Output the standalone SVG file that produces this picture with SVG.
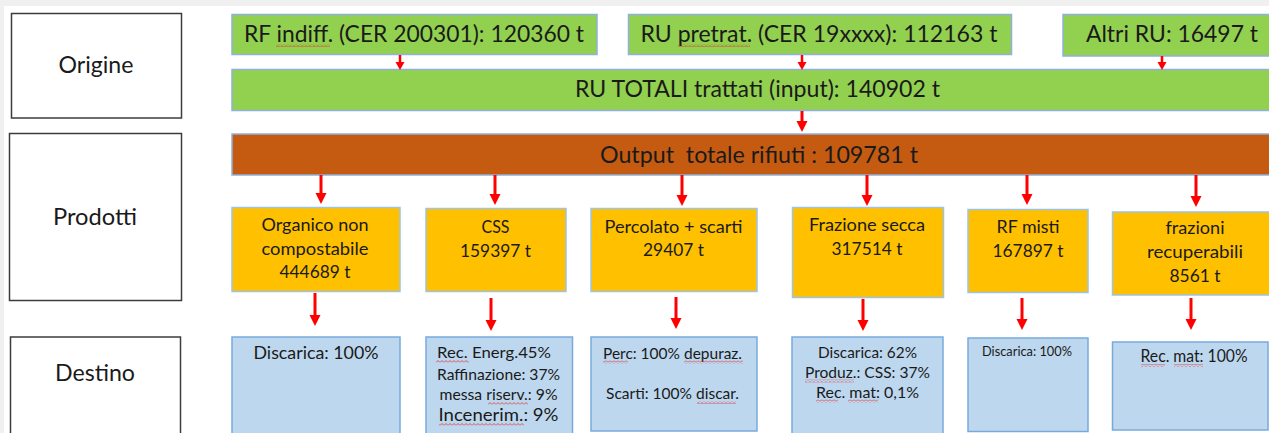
<svg xmlns="http://www.w3.org/2000/svg" width="1269" height="433" viewBox="0 0 1269 433">
<style>
  text { font-family: Lato, "Liberation Sans", sans-serif; fill: #1a1a1a; text-anchor: middle; }
  .lbl { fill: #ffffff; stroke: #3c3c3c; stroke-width: 1.5; }
  .grn { fill: #92D050; stroke: #8FB1DB; stroke-width: 1.5; }
  .brn { fill: #C55A11; stroke: #8FB1DB; stroke-width: 1.5; }
  .org { fill: #FFC000; stroke: #9DC3E6; stroke-width: 1.5; }
  .dst { fill: #BDD7EE; stroke: #7AAADC; stroke-width: 1.5; }
  .arr { stroke: #FF0000; stroke-width: 3; fill: none; }
  .arrs { stroke: #FF0000; stroke-width: 2.5; fill: none; }
  .t24 { font-size: 24px; }
  .t22 { font-size: 23px; }
  .t17 { font-size: 18px; }
  .sq { fill: url(#squiggle); }
</style>
<defs>
  <marker id="ah" markerUnits="userSpaceOnUse" markerWidth="11" markerHeight="12" refX="0" refY="5.5" orient="auto">
    <path d="M0,0 L11,5.5 L0,11 z" fill="#FF0000"/>
  </marker>
  <marker id="ahs" markerUnits="userSpaceOnUse" markerWidth="9" markerHeight="10" refX="0" refY="4.5" orient="auto">
    <path d="M0,0 L8,4.5 L0,9 z" fill="#FF0000"/>
  </marker>
  <pattern id="squiggle" patternUnits="userSpaceOnUse" width="4" height="3">
    <path d="M0,2.5 L2,0.5 L4,2.5" fill="none" stroke="#E03030" stroke-width="0.8"/>
  </pattern>
</defs>

<rect x="0" y="0" width="1269" height="433" fill="#ffffff"/>
<rect x="0" y="0" width="1269" height="6" fill="#F0F0F0"/>
<rect x="0" y="0" width="4" height="433" fill="#F0F0F0"/>

<g id="label-origine">
  <rect class="lbl" x="11.5" y="13.5" width="170" height="104.5"/>
  <text class="t24" x="96" y="73" textLength="75" lengthAdjust="spacingAndGlyphs">Origine</text>
</g>
<g id="label-prodotti">
  <rect class="lbl" x="9.5" y="133.5" width="172" height="167"/>
  <text class="t24" x="95" y="225" textLength="84" lengthAdjust="spacingAndGlyphs">Prodotti</text>
</g>
<g id="label-destino">
  <rect class="lbl" x="10.5" y="337" width="170" height="110"/>
  <text class="t24" x="95" y="381" textLength="80" lengthAdjust="spacingAndGlyphs">Destino</text>
</g>

<g id="origin-rf">
  <rect class="grn" x="232" y="14.5" width="365" height="40"/>
  <text class="t22" x="414" y="42" textLength="340" lengthAdjust="spacingAndGlyphs">RF indiff. (CER 200301): 120360 t</text>
  <rect class="sq" x="276" y="44" width="54" height="3"/>
</g>
<g id="origin-ru">
  <rect class="grn" x="628.5" y="14.5" width="383" height="40"/>
  <text class="t22" x="819" y="42" textLength="357" lengthAdjust="spacingAndGlyphs">RU pretrat. (CER 19xxxx): 112163 t</text>
  <rect class="sq" x="678" y="44" width="72" height="3"/>
</g>
<g id="origin-altri">
  <rect class="grn" x="1063" y="14.5" width="215" height="41.5"/>
  <text class="t22" x="1172" y="42" textLength="172" lengthAdjust="spacingAndGlyphs">Altri RU: 16497 t</text>
</g>
<g id="ru-totali">
  <rect class="grn" x="232" y="69.5" width="1045" height="41"/>
  <text class="t22" x="757.5" y="96.5" textLength="365" lengthAdjust="spacingAndGlyphs">RU TOTALI trattati (input): 140902 t</text>
</g>
<g id="output">
  <rect class="brn" x="232" y="134" width="1045" height="41"/>
  <text class="t22" x="759" y="162.5" textLength="318" lengthAdjust="spacingAndGlyphs" xml:space="preserve">Output  totale rifiuti : 109781 t</text>
</g>

<g id="prod-organico">
  <rect class="org" x="232" y="207.5" width="168" height="84"/>
  <text class="t17" x="315" y="231" textLength="107" lengthAdjust="spacingAndGlyphs">Organico non</text>
  <text class="t17" x="315" y="254.5" textLength="107" lengthAdjust="spacingAndGlyphs">compostabile</text>
  <text class="t17" x="315" y="278" textLength="71" lengthAdjust="spacingAndGlyphs">444689 t</text>
</g>
<g id="prod-css">
  <rect class="org" x="426" y="208.5" width="140" height="83"/>
  <text class="t17" x="495.5" y="232.5" textLength="28" lengthAdjust="spacingAndGlyphs">CSS</text>
  <text class="t17" x="495.5" y="256.5" textLength="71" lengthAdjust="spacingAndGlyphs">159397 t</text>
</g>
<g id="prod-percolato">
  <rect class="org" x="591" y="208.5" width="166" height="83"/>
  <text class="t17" x="673.5" y="232.5" textLength="138" lengthAdjust="spacingAndGlyphs">Percolato + scarti</text>
  <text class="t17" x="673.5" y="256" textLength="61" lengthAdjust="spacingAndGlyphs">29407 t</text>
</g>
<g id="prod-frazione-secca">
  <rect class="org" x="792.5" y="207.5" width="151" height="90"/>
  <text class="t17" x="867" y="231" textLength="116" lengthAdjust="spacingAndGlyphs">Frazione secca</text>
  <text class="t17" x="867" y="254.5" textLength="71" lengthAdjust="spacingAndGlyphs">317514 t</text>
</g>
<g id="prod-rf-misti">
  <rect class="org" x="968" y="209.5" width="120" height="83"/>
  <text class="t17" x="1028" y="233" textLength="63" lengthAdjust="spacingAndGlyphs">RF misti</text>
  <text class="t17" x="1028" y="256.5" textLength="71" lengthAdjust="spacingAndGlyphs">167897 t</text>
</g>
<g id="prod-frazioni-recuperabili">
  <rect class="org" x="1112.5" y="212" width="165" height="83"/>
  <text class="t17" x="1195" y="234" textLength="59" lengthAdjust="spacingAndGlyphs">frazioni</text>
  <text class="t17" x="1195" y="258" textLength="96" lengthAdjust="spacingAndGlyphs">recuperabili</text>
  <text class="t17" x="1195" y="282" textLength="51" lengthAdjust="spacingAndGlyphs">8561 t</text>
</g>

<g id="dest-organico">
  <rect class="dst" x="232" y="337" width="168" height="110"/>
  <text x="316" y="359" font-size="17.5" textLength="125" lengthAdjust="spacingAndGlyphs">Discarica: 100%</text>
</g>
<g id="dest-css">
  <rect class="dst" x="426" y="337" width="146.5" height="110"/>
  <text x="494" y="358" font-size="16" textLength="114" lengthAdjust="spacingAndGlyphs">Rec. Energ.45%</text>
  <text x="498.5" y="379.5" font-size="16" textLength="123" lengthAdjust="spacingAndGlyphs">Raffinazione: 37%</text>
  <text x="498.5" y="400" font-size="16" textLength="118" lengthAdjust="spacingAndGlyphs">messa riserv.: 9%</text>
  <text x="498.5" y="421" font-size="17.5" textLength="120" lengthAdjust="spacingAndGlyphs">Incenerim.: 9%</text>
  <rect class="sq" x="436" y="360" width="33" height="3"/>
  <rect class="sq" x="488" y="402" width="40" height="3"/>
  <rect class="sq" x="439" y="423" width="85" height="3"/>
</g>
<g id="dest-percolato">
  <rect class="dst" x="591" y="337" width="166" height="94"/>
  <text x="672.5" y="358.5" font-size="16" textLength="139" lengthAdjust="spacingAndGlyphs">Perc: 100% depuraz.</text>
  <text x="672.5" y="398.5" font-size="16" textLength="133" lengthAdjust="spacingAndGlyphs">Scarti: 100% discar.</text>
  <rect class="sq" x="603" y="360.5" width="25" height="3"/>
  <rect class="sq" x="684" y="360.5" width="59" height="3"/>
  <rect class="sq" x="697" y="401" width="39" height="3"/>
</g>
<g id="dest-frazione-secca">
  <rect class="dst" x="792" y="337" width="151" height="110"/>
  <text x="867.5" y="357.5" font-size="16" textLength="99" lengthAdjust="spacingAndGlyphs">Discarica: 62%</text>
  <text x="867.5" y="377.5" font-size="16" textLength="125" lengthAdjust="spacingAndGlyphs">Produz.: CSS: 37%</text>
  <text x="867.5" y="397.5" font-size="16" textLength="103" lengthAdjust="spacingAndGlyphs">Rec. mat: 0,1%</text>
  <rect class="sq" x="805" y="379.5" width="49" height="3"/>
  <rect class="sq" x="816" y="399.5" width="22" height="3"/>
  <rect class="sq" x="848" y="399.5" width="30" height="3"/>
</g>
<g id="dest-rf-misti">
  <rect class="dst" x="968" y="338" width="120" height="93.5"/>
  <text x="1027" y="356" font-size="13" textLength="90" lengthAdjust="spacingAndGlyphs">Discarica: 100%</text>
</g>
<g id="dest-frazioni-recuperabili">
  <rect class="dst" x="1112.5" y="342" width="155.5" height="88"/>
  <text x="1194" y="362" font-size="16.5" textLength="107" lengthAdjust="spacingAndGlyphs">Rec. mat: 100%</text>
  <rect class="sq" x="1141" y="364" width="24" height="3"/>
  <rect class="sq" x="1174" y="364" width="29" height="3"/>
</g>

<g id="connectors">
  <line class="arrs" x1="400" y1="55" x2="400" y2="62" marker-end="url(#ahs)"/>
  <line class="arrs" x1="802" y1="55" x2="802" y2="62" marker-end="url(#ahs)"/>
  <line class="arrs" x1="1162" y1="56" x2="1162" y2="62" marker-end="url(#ahs)"/>
  <line class="arr" x1="802" y1="111" x2="802" y2="121" marker-end="url(#ah)"/>
  <line class="arr" x1="321" y1="175" x2="321" y2="193" marker-end="url(#ah)"/>
  <line class="arr" x1="495" y1="175" x2="495" y2="194" marker-end="url(#ah)"/>
  <line class="arr" x1="682" y1="175" x2="682" y2="195" marker-end="url(#ah)"/>
  <line class="arr" x1="867" y1="175" x2="867" y2="195" marker-end="url(#ah)"/>
  <line class="arr" x1="1027" y1="175" x2="1027" y2="194" marker-end="url(#ah)"/>
  <line class="arr" x1="1196" y1="175" x2="1196" y2="196" marker-end="url(#ah)"/>
  <line class="arr" x1="315" y1="293" x2="315" y2="315" marker-end="url(#ah)"/>
  <line class="arr" x1="491" y1="298" x2="491" y2="320" marker-end="url(#ah)"/>
  <line class="arr" x1="676" y1="297" x2="676" y2="318" marker-end="url(#ah)"/>
  <line class="arr" x1="863" y1="299" x2="863" y2="320" marker-end="url(#ah)"/>
  <line class="arr" x1="1022" y1="298" x2="1022" y2="319" marker-end="url(#ah)"/>
  <line class="arr" x1="1191" y1="298" x2="1191" y2="319" marker-end="url(#ah)"/>
</g>
</svg>
